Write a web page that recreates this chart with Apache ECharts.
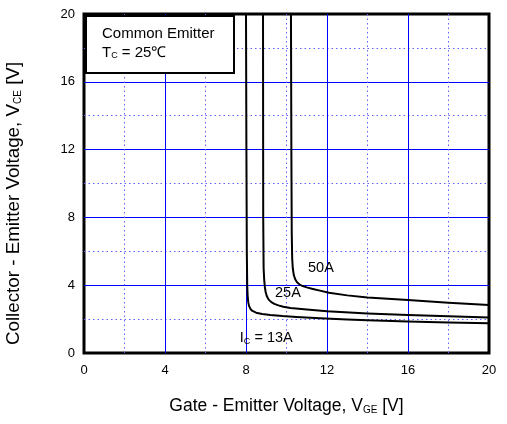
<!DOCTYPE html>
<html>
<head>
<meta charset="utf-8">
<script src="https://cdn.jsdelivr.net/npm/echarts@6/dist/echarts.min.js"></script>
<style>
html,body{margin:0;padding:0;background:#fff;}
#chart{width:507px;height:424px;}
</style>
</head>
<body>
<div id="chart"></div>
<script>
// Ic = 13A curve
const vge13 = [8.0, 8.02, 8.04, 8.06, 8.08, 8.11, 8.15, 8.22, 8.32, 8.5, 8.8, 9.2, 9.8, 10.5, 11.65, 13, 14, 16, 18, 20];
const vce13 = [20, 12, 6, 4, 3.4, 3.0, 2.78, 2.6, 2.48, 2.38, 2.3, 2.24, 2.18, 2.13, 2.05, 1.98, 1.93, 1.86, 1.8, 1.75];
// Ic = 25A curve
const vge25 = [8.84, 8.85, 8.87, 8.9, 8.93, 8.97, 9.03, 9.12, 9.25, 9.4, 9.6, 9.84, 10.2, 10.6, 11, 12, 14, 16, 18, 20];
const vce25 = [20, 8, 5, 4.3, 3.9, 3.6, 3.35, 3.15, 3.0, 2.9, 2.81, 2.73, 2.66, 2.61, 2.56, 2.46, 2.33, 2.24, 2.17, 2.1];
// Ic = 50A curve
const vge50 = [10.22, 10.24, 10.26, 10.28, 10.31, 10.36, 10.43, 10.52, 10.65, 10.8, 11.0, 11.3, 11.65, 12.1, 13, 14, 16, 18, 20];
const vce50 = [20, 12, 7, 5.6, 5.0, 4.6, 4.35, 4.17, 4.04, 3.95, 3.87, 3.78, 3.68, 3.55, 3.4, 3.28, 3.12, 2.97, 2.83];

const xTicks = [0, 4, 8, 12, 16, 20];
const yTicks = [0, 4, 8, 12, 16, 20];

const curveLabels = ['I{sub|C} = 13A', '25A', '50A'];
const labelPos = [[9.0, 0.88], [10.07, 3.54], [11.7, 5.0]];

const FONT = '"Liberation Sans", Arial, sans-serif';

function pairs(xs, ys) { return xs.map((x, i) => [x, ys[i]]); }

const chart = echarts.init(document.getElementById('chart'));

function curve(xs, ys, idx) {
  return {
    type: 'line',
    data: pairs(xs, ys),
    showSymbol: false,
    symbol: 'none',
    smooth: false,
    lineStyle: { color: '#000', width: 2, join: 'round', cap: 'round' },
    z: 5,
    markPoint: {
      symbol: 'circle',
      symbolSize: 0,
      silent: true,
      data: [{
        coord: labelPos[idx],
        label: {
          show: true,
          position: 'inside',
          formatter: curveLabels[idx],
          color: '#000',
          fontSize: 14.5,
          fontFamily: FONT,
          rich: { sub: { fontSize: 9, fontFamily: FONT, verticalAlign: 'bottom', padding: [6, 0, 0, 0] } }
        }
      }]
    }
  };
}

const option = {
  animation: false,
  backgroundColor: '#fff',
  grid: {
    left: 84, right: 18, top: 14, bottom: 71,
    outerBoundsMode: 'none',
    containLabel: false,
    show: true, borderColor: '#000', borderWidth: 3, backgroundColor: 'transparent'
  },
  xAxis: {
    type: 'value', min: 0, max: 20, interval: 4,
    axisLine: { show: false },
    axisTick: { show: false },
    axisLabel: {
      color: '#000', fontSize: 13, fontFamily: FONT, margin: 11,
      customValues: xTicks
    },
    splitLine: { show: true, showMinLine: false, showMaxLine: false, lineStyle: { color: '#0000ff', width: 1 } },
    minorTick: { show: false, splitNumber: 2 },
    minorSplitLine: { show: true, lineStyle: { color: '#6060ff', width: 1, type: [1.5, 3] } },
    name: 'Gate - Emitter Voltage, V{sub|GE} [V]',
    nameLocation: 'middle',
    nameGap: 44,
    nameTextStyle: {
      color: '#000', fontSize: 17.5, fontFamily: FONT,
      rich: { sub: { fontSize: 10, fontFamily: FONT, verticalAlign: 'bottom', padding: [8, 0, 0, 0] } }
    }
  },
  yAxis: {
    type: 'value', min: 0, max: 20, interval: 4,
    axisLine: { show: false },
    axisTick: { show: false },
    axisLabel: { color: '#000', fontSize: 13, fontFamily: FONT, margin: 9, customValues: yTicks },
    splitLine: { show: true, showMinLine: false, showMaxLine: false, lineStyle: { color: '#0000ff', width: 1 } },
    minorTick: { show: false, splitNumber: 2 },
    minorSplitLine: { show: true, lineStyle: { color: '#6060ff', width: 1, type: [1.5, 3] } },
    name: 'Collector - Emitter Voltage, V{sub|CE} [V]',
    nameLocation: 'middle',
    nameRotate: 90,
    nameGap: 61,
    nameTextStyle: {
      color: '#000', fontSize: 18.8, fontFamily: FONT,
      padding: [0, 40, 0, 0],
      rich: { sub: { fontSize: 10, fontFamily: FONT, verticalAlign: 'bottom', padding: [8, 0, 0, 0] } }
    }
  },
  graphic: [
    {
      type: 'rect', left: 85, top: 15, z: 100,
      shape: { width: 148, height: 57 },
      style: { fill: '#fff', stroke: '#000', lineWidth: 2 }
    },
    {
      type: 'text', left: 102, top: 26, z: 101,
      style: { text: 'Common Emitter', fill: '#000', font: '15px "Liberation Sans", Arial, sans-serif' }
    },
    {
      type: 'text', left: 102, top: 45, z: 101,
      style: {
        text: 'T{sub|C} = 25℃', fill: '#000', font: '15px "Liberation Sans", Arial, sans-serif',
        rich: { sub: { fontSize: 9, fontFamily: FONT, verticalAlign: 'bottom', padding: [7, 0, 0, 0] } }
      }
    }
  ],
  series: [curve(vge13, vce13, 0), curve(vge25, vce25, 1), curve(vge50, vce50, 2)]
};

chart.setOption(option);
</script>
</body>
</html>
